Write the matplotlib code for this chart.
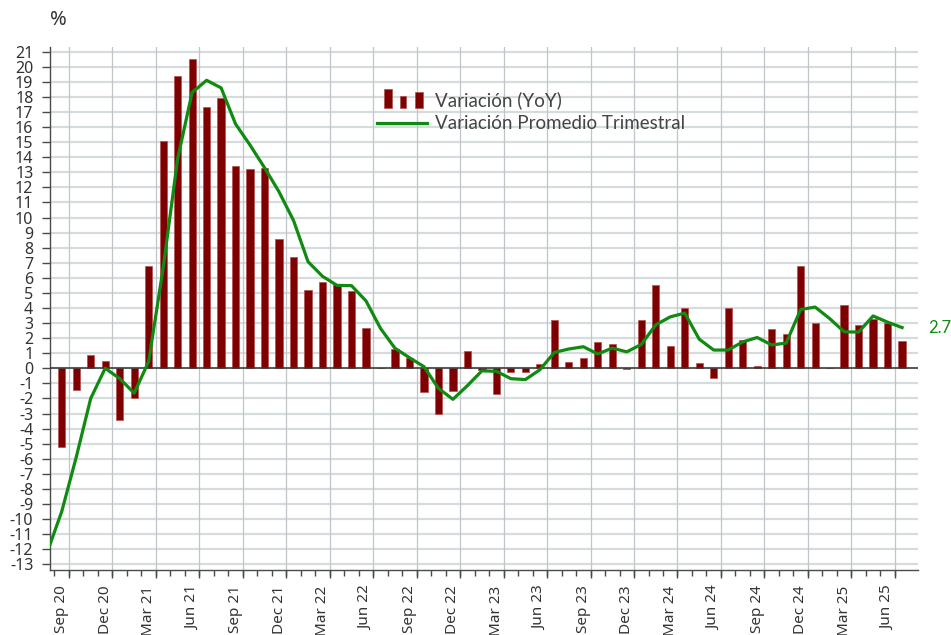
import numpy as np
import matplotlib
matplotlib.use("Agg")
import matplotlib.pyplot as plt
from matplotlib.legend_handler import HandlerBase
from matplotlib.patches import Rectangle, Patch
from matplotlib.lines import Line2D

# ---------------- data ----------------
months = ["Aug 20", "Sep 20", "Oct 20", "Nov 20", "Dec 20",
          "Jan 21", "Feb 21", "Mar 21", "Apr 21", "May 21", "Jun 21", "Jul 21", "Aug 21", "Sep 21", "Oct 21", "Nov 21", "Dec 21",
          "Jan 22", "Feb 22", "Mar 22", "Apr 22", "May 22", "Jun 22", "Jul 22", "Aug 22", "Sep 22", "Oct 22", "Nov 22", "Dec 22",
          "Jan 23", "Feb 23", "Mar 23", "Apr 23", "May 23", "Jun 23", "Jul 23", "Aug 23", "Sep 23", "Oct 23", "Nov 23", "Dec 23",
          "Jan 24", "Feb 24", "Mar 24", "Apr 24", "May 24", "Jun 24", "Jul 24", "Aug 24", "Sep 24", "Oct 24", "Nov 24", "Dec 24",
          "Jan 25", "Feb 25", "Mar 25", "Apr 25", "May 25", "Jun 25", "Jul 25"]

# YoY variation (bars); no bar for Aug 20
yoy = [np.nan, -5.2, -1.45, 0.85, 0.5,
       -3.45, -1.95, 6.8, 15.1, 19.4, 20.5, 17.3, 17.9, 13.4, 13.2, 13.3, 8.6,
       7.4, 5.2, 5.7, 5.6, 5.15, 2.7, 0.05, 1.25, 0.7, -1.6, -3.05, -1.5,
       1.15, -0.1, -1.7, -0.27, -0.27, 0.27, 3.2, 0.4, 0.7, 1.75, 1.6, -0.05,
       3.2, 5.5, 1.5, 4.0, 0.33, -0.66, 4.0, 1.88, 0.17, 2.6, 2.28, 6.8,
       3.0, 0.05, 4.2, 2.9, 3.3, 3.0, 1.8]

# Three-month average variation (line)
avg3 = [-12.2, -9.5, -5.9, -2.0, 0.0,
        -0.68, -1.65, 0.45, 6.65, 13.9, 18.3, 19.1, 18.6, 16.2, 14.8, 13.3, 11.7,
        9.8, 7.07, 6.1, 5.5, 5.48, 4.47, 2.65, 1.33, 0.7, 0.11, -1.33, -2.06,
        -1.15, -0.17, -0.2, -0.69, -0.75, -0.1, 1.05, 1.28, 1.43, 0.95, 1.34, 1.09,
        1.58, 2.88, 3.41, 3.66, 1.93, 1.21, 1.21, 1.75, 2.04, 1.55, 1.67, 3.9,
        4.06, 3.3, 2.42, 2.4, 3.47, 3.06, 2.7]

labeled = ["Sep 20", "Dec 20", "Mar 21", "Jun 21", "Sep 21", "Dec 21", "Mar 22", "Jun 22",
           "Sep 22", "Dec 22", "Mar 23", "Jun 23", "Sep 23", "Dec 23", "Mar 24", "Jun 24",
           "Sep 24", "Dec 24", "Mar 25", "Jun 25"]

y_ticks = list(range(-13, 22))
last_label = "2.7"

# ---------------- style ----------------
BAR_C = "#7f0000"
LINE_C = "#108a10"
TXT_C = "#333333"
HGRID_C = "#d6dbde"
VGRID_C = "#bfc5c9"
SPINE_C = "#4a4a4a"
TICK_FONT = "Noto Sans"

fig = plt.figure(figsize=(9.51, 6.35), dpi=100)
ax = fig.add_axes([50/951, 1-570/635, 868/951, (570-46.7)/635])

x = np.arange(len(months))
ax.bar(x, yoy, width=0.5, color=BAR_C, edgecolor="#b05050", linewidth=0.5, zorder=3)
ax.plot(x, avg3, color=LINE_C, lw=2.3, zorder=4, solid_joinstyle="round")

ax.set_xlim(0.19, len(months) - 1 + 1.1)
ax.set_ylim(-13.38, 21.33)

# y axis
ax.set_yticks(y_ticks)
ax.set_yticklabels([str(v) for v in y_ticks])
ax.tick_params(axis="y", length=6, width=1, color=SPINE_C, pad=6,
               labelsize=11.5, labelcolor=TXT_C, labelfontfamily=TICK_FONT)
for v in y_ticks:
    ax.axhline(v, color=HGRID_C, lw=1.6, zorder=1)
ax.axhline(0, color="#333333", lw=1.1, zorder=3.5)

# x axis: labels at category centres, ticks/gridlines at category boundaries
lab_pos = [months.index(m) for m in labeled]
ax.set_xticks(lab_pos, labels=labeled, minor=True)
ax.tick_params(axis="x", which="minor", length=0, pad=11, labelrotation=90,
               labelsize=11, labelcolor=TXT_C, labelfontfamily=TICK_FONT)
bound_major = [p + 0.5 for p in lab_pos]
ax.set_xticks(bound_major, labels=[""] * len(bound_major))
ax.tick_params(axis="x", which="major", length=6, width=1, color=SPINE_C)
for b in bound_major:
    ax.axvline(b, color=VGRID_C, lw=0.9, zorder=1.5)
sec = ax.secondary_xaxis("bottom")
sec.set_xticks([i + 0.5 for i in x[:-1]], labels=[""] * (len(x) - 1))
sec.tick_params(length=4, width=1, color=SPINE_C)
sec.spines["bottom"].set_visible(False)

for s in ["top", "right"]:
    ax.spines[s].set_visible(False)
for s in ["left", "bottom"]:
    ax.spines[s].set_color(SPINE_C)
    ax.spines[s].set_linewidth(1)

# y unit label
fig.text(50/951, 1 - 20/635, "%", fontfamily=TICK_FONT, fontsize=14.5, color=TXT_C, ha="left", va="center")

# end label
ax.annotate(last_label, xy=(x[-1], avg3[-1]), xytext=(19, 0), textcoords="offset points",
            color=LINE_C, fontfamily="Lato", fontsize=12, va="center", ha="left", annotation_clip=False)


# legend with three-bar icon
class ThreeBars(HandlerBase):
    def create_artists(self, legend, orig_handle, xdescent, ydescent, width, height, fontsize, trans):
        starts = [0.14, 0.46, 0.76]
        widths = [0.155, 0.12, 0.155]
        heights = [1.43, 0.94, 1.22]
        arts = []
        for s, w, h in zip(starts, widths, heights):
            r = Rectangle((-xdescent + s * width, -ydescent - 0.15 * height), w * width, h * height,
                          facecolor=BAR_C, edgecolor="#b05050", lw=0.5, transform=trans)
            arts.append(r)
        return arts


bar_proxy = Patch(color=BAR_C)
line_proxy = Line2D([0], [0], color=LINE_C, lw=2.3)
leg = fig.legend([bar_proxy, line_proxy], ["Variación (YoY)", "Variación Promedio Trimestral"],
                 handler_map={Patch: ThreeBars()}, loc="upper left",
                 bbox_to_anchor=(377/951, 1 - 91/635), frameon=False,
                 prop={"family": "Lato", "size": 13.5}, handlelength=2.67, handletextpad=0.43,
                 labelspacing=0.33, borderpad=0, borderaxespad=0)
for t in leg.get_texts():
    t.set_color("#444444")

fig.savefig("out.png", dpi=100)
